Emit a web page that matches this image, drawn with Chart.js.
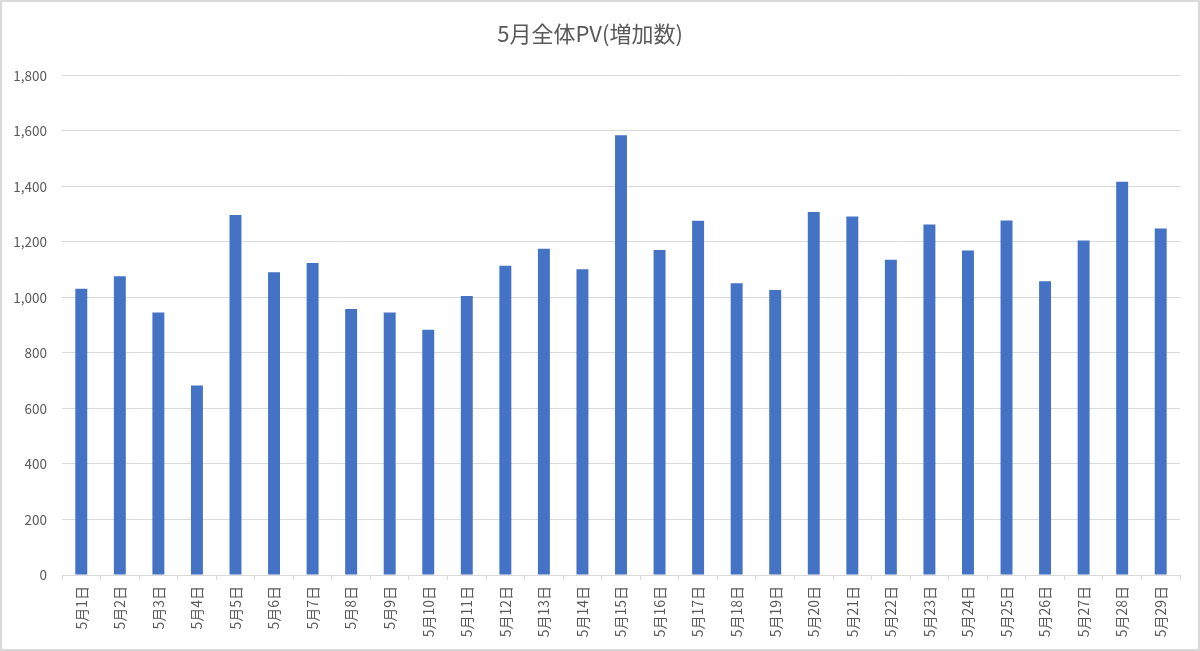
<!DOCTYPE html>
<html>
<head>
<meta charset="utf-8">
<script src="https://cdn.jsdelivr.net/npm/chart.js@4.4.1/dist/chart.umd.min.js"></script>
<style>
    html, body { margin: 0; padding: 0; background: #ffffff; }
    #wrap { position: relative; width: 1200px; height: 651px; }
    #frame {
        position: absolute; left: 0; top: 0; width: 1200px; height: 651px;
        box-sizing: border-box; border: 2px solid #d9d9d9; pointer-events: none;
    }
</style>
</head>
<body>
<div id="wrap">
    <canvas id="pvChart" width="1200" height="651"></canvas>
    <div id="frame"></div>
</div>
<script>
const days = [
    '5月1日', '5月2日', '5月3日', '5月4日', '5月5日', '5月6日', '5月7日', '5月8日',
    '5月9日', '5月10日', '5月11日', '5月12日', '5月13日', '5月14日', '5月15日',
    '5月16日', '5月17日', '5月18日', '5月19日', '5月20日', '5月21日', '5月22日',
    '5月23日', '5月24日', '5月25日', '5月26日', '5月27日', '5月28日', '5月29日'
];
const pvIncrease = [
    1031, 1076, 946, 683, 1297, 1091, 1124, 958, 946, 884,
    1005, 1114, 1175, 1102, 1584, 1171, 1276, 1051, 1027, 1308,
    1292, 1136, 1263, 1169, 1277, 1058, 1205, 1417, 1248
];
const yTicks = [0, 200, 400, 600, 800, 1000, 1200, 1400, 1600, 1800];

const textColor = '#595959';
const gridColor = '#d9d9d9';
const fontFamily = '"Noto Sans CJK JP", "Noto Sans", sans-serif';

const ctx = document.getElementById('pvChart').getContext('2d');
const pvChart = new Chart(ctx, {
    type: 'bar',
    data: {
        labels: days,
        datasets: [{
            label: 'PV',
            data: pvIncrease,
            backgroundColor: '#4472c4',
            borderWidth: 0,
            barPercentage: 0.31,
            categoryPercentage: 1.0
        }]
    },
    options: {
        responsive: false,
        animation: false,
        devicePixelRatio: 1,
        layout: {
            padding: { left: 0, right: 20, top: 0, bottom: 0 }
        },
        plugins: {
            legend: { display: false },
            tooltip: { enabled: false },
            title: {
                display: true,
                text: '5月全体PV(増加数)',
                color: textColor,
                font: { family: fontFamily, size: 22, weight: 'normal' },
                padding: { top: 20, bottom: 29 }
            }
        },
        scales: {
            x: {
                grid: {
                    offset: true,
                    drawOnChartArea: false,
                    drawTicks: true,
                    tickLength: 5,
                    color: gridColor
                },
                border: { display: true, color: gridColor, width: 1 },
                ticks: {
                    color: textColor,
                    font: { family: fontFamily, size: 14 },
                    minRotation: 90,
                    maxRotation: 90,
                    autoSkip: false,
                    padding: 6
                },
                afterFit: function (scale) {
                    scale.height = 76;
                }
            },
            y: {
                min: 0,
                max: 1800,
                afterBuildTicks: function (scale) {
                    scale.ticks = yTicks.map(v => ({ value: v }));
                },
                grid: {
                    color: gridColor,
                    drawTicks: false
                },
                border: { display: false },
                ticks: {
                    color: textColor,
                    font: { family: fontFamily, size: 13.5 },
                    padding: 15,
                    callback: function (value) {
                        return value.toLocaleString('en-US');
                    }
                },
                afterFit: function (scale) {
                    scale.width = 62;
                }
            }
        }
    }
});
</script>
</body>
</html>
